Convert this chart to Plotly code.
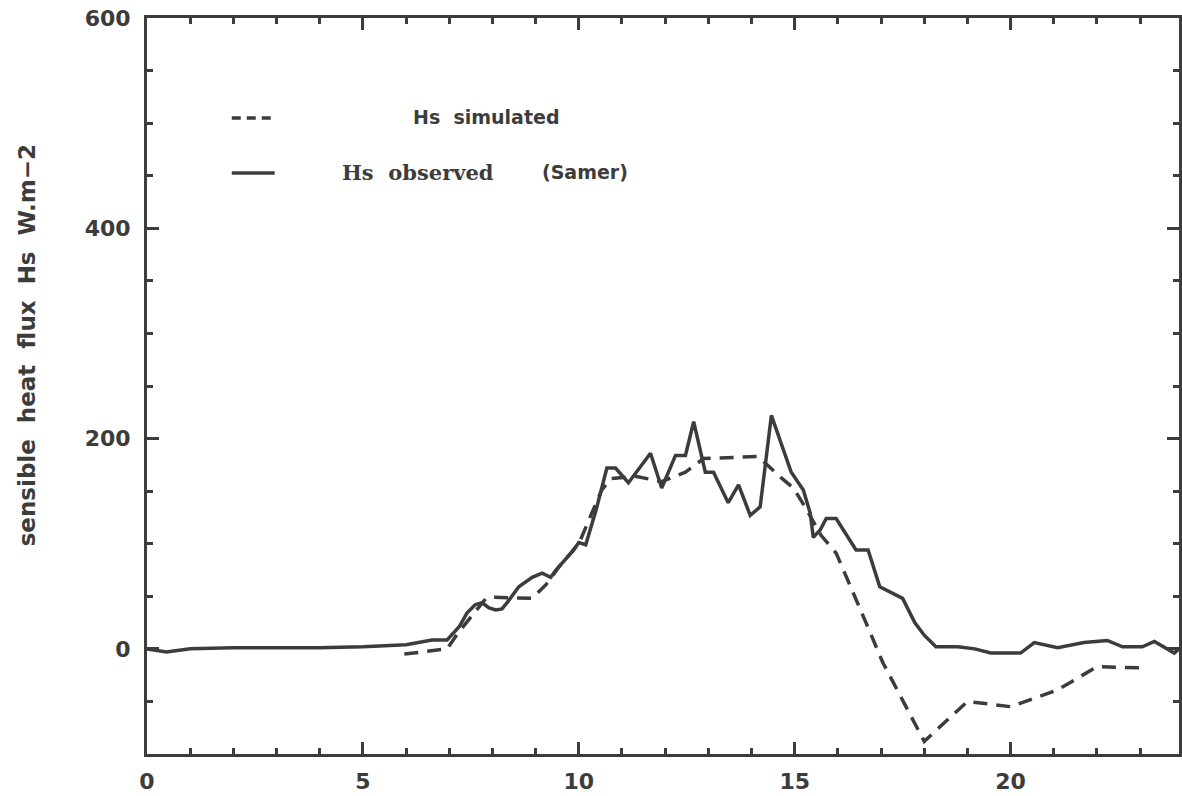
import plotly.graph_objects as go

# Observed sensible heat flux (solid)
obs_hour = [0, 0.45, 1.0, 2.0, 3.0, 4.0, 5.0, 6.0, 6.6, 6.95, 7.23, 7.41, 7.6, 7.76,
            7.92, 8.08, 8.22, 8.34, 8.61, 8.92, 9.15, 9.35, 9.47, 9.84, 10.0, 10.16,
            10.4, 10.65, 10.85, 11.15, 11.66, 11.92, 12.24, 12.47, 12.66, 12.93, 13.12,
            13.46, 13.7, 13.97, 14.2, 14.46, 14.92, 15.2, 15.36, 15.43, 15.59, 15.73,
            15.96, 16.42, 16.7, 16.97, 17.5, 17.78, 18.0, 18.27, 18.78, 19.17, 19.54,
            20.23, 20.55, 21.09, 21.7, 22.24, 22.59, 23.05, 23.33, 23.79, 23.9]
obs_hs = [0, -3, 0, 1, 1, 1, 2, 4, 8.5, 8.5, 21, 34, 42, 44,
          39, 37, 38, 44, 59, 68, 72, 68, 75, 92, 101, 99,
          132, 172, 172, 158, 186, 153, 184, 184, 216, 168, 168,
          139, 156, 127, 135, 222, 168, 151, 129, 106, 113, 124,
          124, 94, 94, 59, 48, 25, 13, 2, 2, 0, -4,
          -4, 6, 1, 6, 8, 2, 2, 7, -4, 0]

# Simulated sensible heat flux (dashed)
sim_hour = [5.96, 6.95, 7.2, 7.58, 7.85, 8.04, 8.92, 9.24, 9.54, 10.0, 10.23, 10.53,
            10.74, 11.34, 11.92, 12.47, 12.89, 14.16, 14.62, 14.97, 15.24, 15.61,
            15.96, 16.28, 16.65, 17.04, 18.0, 19.0, 20.0, 21.09, 22.0, 23.0]
sim_hs = [-5, 0, 15, 34, 48, 49, 48, 61, 78, 100, 123, 151,
          162, 164, 159, 168, 181, 183, 165, 153, 135, 108,
          91, 61, 25, -13, -88, -50, -55, -39, -17, -18]

x_ticks = [0, 5, 10, 15, 20]
y_ticks = [0, 200, 400, 600]

INK = "#3c3c3c"
LW = 3.5

fig = go.Figure()
fig.add_trace(go.Scatter(x=sim_hour, y=sim_hs, mode="lines",
                         line=dict(color=INK, width=LW, dash="14px,9px"),
                         showlegend=False, hoverinfo="skip"))
fig.add_trace(go.Scatter(x=obs_hour, y=obs_hs, mode="lines",
                         line=dict(color=INK, width=LW),
                         showlegend=False, hoverinfo="skip"))

tickfont = dict(family="DejaVu Sans", size=22, color=INK, weight="bold")

fig.update_xaxes(range=[0, 23.9], showgrid=False, zeroline=False,
                 showline=True, linewidth=3, linecolor=INK, mirror="ticks",
                 ticks="inside", ticklen=12, tickwidth=3, tickcolor=INK,
                 tickvals=x_ticks, ticktext=[str(v) for v in x_ticks],
                 tickfont=tickfont, ticklabelstandoff=6,
                 minor=dict(dtick=1, tick0=0, ticks="inside", ticklen=6,
                            tickwidth=3, tickcolor=INK, showgrid=False))
fig.update_yaxes(range=[-100, 600], showgrid=False, zeroline=False,
                 showline=True, linewidth=3, linecolor=INK, mirror="ticks",
                 ticks="inside", ticklen=12, tickwidth=3, tickcolor=INK,
                 tickvals=y_ticks, ticktext=[str(v) for v in y_ticks],
                 tickfont=tickfont, ticklabelstandoff=9,
                 minor=dict(dtick=50, tick0=0, ticks="inside", ticklen=6,
                            tickwidth=3, tickcolor=INK, showgrid=False))

def px_x(p):
    return (p - 147) / 1035.0

def px_y(p):
    return (754 - p) / 736.0

# legend samples
fig.add_shape(type="line", xref="paper", yref="paper",
              x0=px_x(232), x1=px_x(276), y0=px_y(118), y1=px_y(118),
              line=dict(color=INK, width=LW, dash="9px,6px"))
fig.add_shape(type="line", xref="paper", yref="paper",
              x0=px_x(232), x1=px_x(275), y0=px_y(173), y1=px_y(173),
              line=dict(color=INK, width=LW))

fig.add_annotation(xref="paper", yref="paper", x=px_x(487), y=px_y(117),
                   xanchor="center", yanchor="middle",
                   text="<b>Hs  simulated</b>", showarrow=False,
                   font=dict(family="DejaVu Sans", size=19, color=INK))
fig.add_annotation(xref="paper", yref="paper", x=px_x(419), y=px_y(172),
                   xanchor="center", yanchor="middle",
                   text="<b>Hs  observed</b>", showarrow=False,
                   font=dict(family="DejaVu Serif", size=21, color=INK))
fig.add_annotation(xref="paper", yref="paper", x=px_x(586), y=px_y(172),
                   xanchor="center", yanchor="middle",
                   text="<b>(Samer)</b>", showarrow=False,
                   font=dict(family="DejaVu Sans", size=19, color=INK))

# y-axis title
fig.add_annotation(xref="paper", yref="paper", x=px_x(27), y=px_y(345),
                   xanchor="center", yanchor="middle",
                   text="<b>sensible  heat  flux  Hs  W.m\u22122</b>", showarrow=False,
                   textangle=-90,
                   font=dict(family="DejaVu Sans", size=23, color=INK))

fig.update_layout(width=1182, height=796,
                  margin=dict(l=147, r=0, t=18, b=42),
                  paper_bgcolor="white", plot_bgcolor="white",
                  showlegend=False)

fig.write_html("out.html")
